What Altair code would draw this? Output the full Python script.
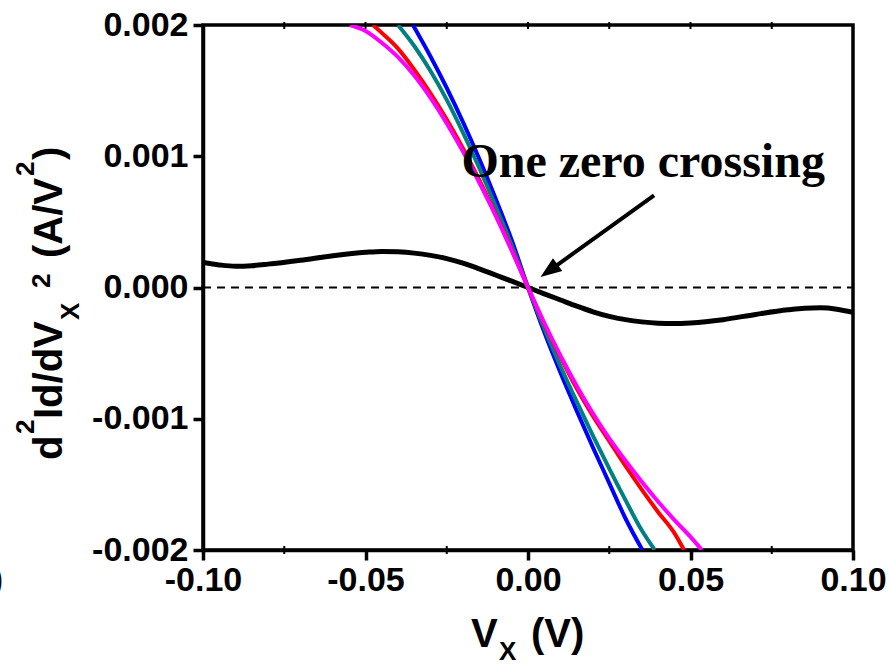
import altair as alt
import pandas as pd

# ---- data -------------------------------------------------------------
# second-derivative curves d2Id/dVx2 (A/V^2) versus Vx (V)
black_x = [-0.100, -0.095, -0.090, -0.085, -0.080, -0.070, -0.060, -0.050, -0.045,
           -0.040, -0.035, -0.030, -0.025, -0.020, -0.015, -0.010, -0.005, 0.000,
           0.005, 0.010, 0.015, 0.020, 0.025, 0.030, 0.035, 0.040, 0.045, 0.050,
           0.060, 0.070, 0.080, 0.085, 0.090, 0.095, 0.100]
black_y = [1.90e-4, 1.72e-4, 1.62e-4, 1.66e-4, 1.78e-4, 2.08e-4, 2.42e-4, 2.68e-4, 2.75e-4,
           2.72e-4, 2.62e-4, 2.45e-4, 2.20e-4, 1.85e-4, 1.42e-4, 0.95e-4, 0.48e-4, 0.0,
           -0.48e-4, -0.95e-4, -1.42e-4, -1.85e-4, -2.20e-4, -2.45e-4, -2.62e-4, -2.72e-4, -2.75e-4, -2.70e-4,
           -2.45e-4, -2.05e-4, -1.70e-4, -1.58e-4, -1.55e-4, -1.65e-4, -1.90e-4]

blue_x = [-0.0354, -0.030, -0.025, -0.020, -0.015, -0.010, -0.005, 0.0,
          0.005, 0.010, 0.015, 0.020, 0.025, 0.030, 0.0352]
blue_y = [2.00e-3, 1.76e-3, 1.52e-3, 1.26e-3, 0.98e-3, 0.68e-3, 0.36e-3, 0.0,
          -0.34e-3, -0.65e-3, -0.94e-3, -1.22e-3, -1.49e-3, -1.76e-3, -2.00e-3]

teal_x = [-0.040, -0.035, -0.030, -0.025, -0.020, -0.015, -0.010, -0.005, 0.0,
          0.005, 0.010, 0.015, 0.020, 0.025, 0.030, 0.035, 0.039]
teal_y = [2.00e-3, 1.84e-3, 1.65e-3, 1.43e-3, 1.18e-3, 0.91e-3, 0.62e-3, 0.32e-3, 0.0,
          -0.31e-3, -0.60e-3, -0.87e-3, -1.13e-3, -1.38e-3, -1.62e-3, -1.85e-3, -2.00e-3]

red_x = [-0.0477, -0.045, -0.040, -0.035, -0.030, -0.025, -0.020, -0.015, -0.010, -0.005, 0.0,
         0.005, 0.010, 0.015, 0.020, 0.025, 0.030, 0.035, 0.040, 0.045, 0.048]
red_y = [2.00e-3, 1.94e-3, 1.82e-3, 1.66e-3, 1.48e-3, 1.28e-3, 1.06e-3, 0.82e-3, 0.56e-3, 0.29e-3, 0.0,
         -0.28e-3, -0.53e-3, -0.77e-3, -0.98e-3, -1.17e-3, -1.36e-3, -1.54e-3, -1.71e-3, -1.87e-3, -2.00e-3]

magenta_x = [-0.0548, -0.050, -0.045, -0.040, -0.035, -0.030, -0.025, -0.020, -0.015, -0.010, -0.005, 0.0,
             0.005, 0.010, 0.015, 0.020, 0.025, 0.030, 0.035, 0.040, 0.045, 0.050, 0.0535]
magenta_y = [2.00e-3, 1.955e-3, 1.865e-3, 1.755e-3, 1.615e-3, 1.445e-3, 1.25e-3, 1.035e-3, 0.80e-3, 0.55e-3, 0.28e-3, 0.0,
             -0.27e-3, -0.52e-3, -0.75e-3, -0.96e-3, -1.15e-3, -1.32e-3, -1.48e-3, -1.63e-3, -1.77e-3, -1.90e-3, -2.00e-3]

x_ticks = [-0.10, -0.05, 0.00, 0.05, 0.10]
x_minor = [-0.075, -0.025, 0.025, 0.075]
y_ticks = [-0.002, -0.001, 0.000, 0.001, 0.002]

note_text = "One zero crossing"
note_pos = (-0.0205, 0.00084)           # start of the label
arrow_tail = (0.0388, 0.000701)
arrow_head = (0.00714, 0.000139)

# ---- chart ------------------------------------------------------------
W, H = 650, 525
XD, YD = [-0.1, 0.1], [-0.002, 0.002]
FONT = "Liberation Sans"
MINUS = "\u2212"

xs = alt.Scale(domain=XD, nice=False, zero=False)
ys = alt.Scale(domain=YD, nice=False, zero=False)

common_axis = dict(title=None, tickSize=10, tickWidth=3.5, domainWidth=3.5, grid=False,
                   labelFlush=False, labelOverlap=False, labelFontSize=34,
                   labelFont=FONT, labelFontWeight="bold", labelColor="black",
                   tickColor="black", domainColor="black")
x_axis = alt.Axis(values=x_ticks, format=".2f", labelPadding=3,
                  labelExpr=f"replace(datum.label, '{MINUS}', '-')", **common_axis)
y_axis = alt.Axis(values=y_ticks, format=".3f", labelPadding=5,
                  labelExpr=f"replace(datum.label, '{MINUS}', '-')", **common_axis)


def curve(xv, yv, color, width=4):
    df = pd.DataFrame({"x": xv, "y": yv})
    return alt.Chart(df).mark_line(color=color, strokeWidth=width, clip=True,
                                   interpolate="monotone").encode(
        x=alt.X("x:Q", scale=xs, axis=x_axis),
        y=alt.Y("y:Q", scale=ys, axis=y_axis),
    )


zero_line = alt.Chart(pd.DataFrame({"x": [XD[0]], "x2": [XD[1]], "y": [0.0]})).mark_rule(
    color="black", strokeWidth=2, strokeDash=[8, 6]).encode(
    x=alt.X("x:Q", scale=xs), x2="x2:Q", y=alt.Y("y:Q", scale=ys))

# small ticks on the bottom (minor) and top (all) edges of the frame
bottom_minor = alt.Chart(pd.DataFrame({"x": x_minor})).mark_rule(
    color="black", strokeWidth=2).encode(
    x=alt.X("x:Q", scale=xs), y=alt.value(H - 4), y2=alt.value(H + 4))
top_ticks = alt.Chart(pd.DataFrame({"x": x_ticks[1:-1] + x_minor})).mark_rule(
    color="black", strokeWidth=2).encode(
    x=alt.X("x:Q", scale=xs), y=alt.value(-3), y2=alt.value(4))

note = alt.Chart(pd.DataFrame({"x": [note_pos[0]], "y": [note_pos[1]], "t": [note_text]})).mark_text(
    font="Liberation Serif", fontWeight="bold", fontSize=48, align="left",
    baseline="alphabetic", color="black").encode(
    x=alt.X("x:Q", scale=xs), y=alt.Y("y:Q", scale=ys), text="t:N")

arrow_line = alt.Chart(pd.DataFrame({"x": [arrow_tail[0]], "y": [arrow_tail[1]],
                                     "x2": [arrow_head[0]], "y2": [arrow_head[1]]})).mark_rule(
    color="black", strokeWidth=4).encode(
    x=alt.X("x:Q", scale=xs), y=alt.Y("y:Q", scale=ys), x2="x2:Q", y2="y2:Q")

arrow_tip = alt.Chart(pd.DataFrame({"x": [arrow_head[0]], "y": [arrow_head[1]]})).mark_point(
    shape="M0,-1L0.6,0.6L-0.6,0.6Z", filled=True, color="black", opacity=1,
    size=700, angle=234, strokeWidth=0).encode(
    x=alt.X("x:Q", scale=xs), y=alt.Y("y:Q", scale=ys))


def piece(text, px, py, size, angle=0, align="left"):
    """Text fragment placed in pixel units relative to the plot's top-left corner."""
    kw = dict(font=FONT, fontWeight="bold", fontSize=size, align=align,
              baseline="alphabetic", color="black")
    if angle:
        kw["angle"] = angle
    return alt.Chart(pd.DataFrame({"t": [text]})).mark_text(**kw).encode(
        x=alt.value(px - 203), y=alt.value(py - 25), text="t:N")


# y-axis title  d²Id/dV_X² (A/V²), read bottom-to-top
y_title = [
    piece("d", 62, 460, 40, 270),
    piece("2", 34, 434, 26, 270),
    piece("Id/dV", 62, 419, 40, 270),
    piece("X", 79, 320, 26, 270),
    piece("2", 50, 288, 26, 270),
    piece("(A/V", 62, 258, 40, 270),
    piece("2", 34, 176, 26, 270),
    piece(")", 62, 160, 40, 270),
]

# x-axis title  V_X (V)
x_title = [
    piece("V", 471, 647, 40),
    piece("X", 499, 660, 26),
    piece("(V)", 531, 647, 40),
]

stray = piece(")", -8, 590, 33)

layers = [zero_line, bottom_minor, top_ticks, curve(black_x, black_y, "black", 5),
          curve(blue_x, blue_y, "#0000ff"), curve(teal_x, teal_y, "#008080"),
          curve(red_x, red_y, "#ff0000"), curve(magenta_x, magenta_y, "#ff00ff"),
          arrow_line, arrow_tip, note] + y_title + x_title + [stray]

chart = alt.layer(*layers).properties(
    width=W, height=H,
    autosize=alt.AutoSizeParams(type="none"),
    padding={"left": 203, "top": 25, "right": 38, "bottom": 118},
).configure(
    background="white",
).configure_view(
    stroke="black", strokeWidth=3.5,
).configure_axis(
    labelFont=FONT, labelFontWeight="bold", labelColor="black",
    tickColor="black", domainColor="black",
)

chart.save("out.html", embed_options={"renderer": "svg", "actions": False})
